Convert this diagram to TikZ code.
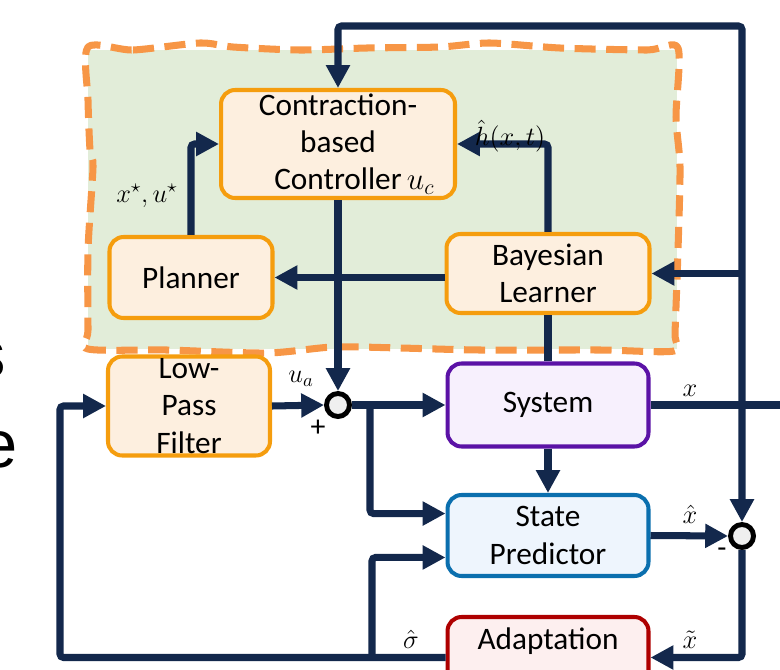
\documentclass[tikz,border=0pt]{standalone}
\usepackage{fix-cm}
\usepackage[no-math]{fontspec}
\setmainfont{Carlito}
\newfontfamily\bigsans{Liberation Sans}
\usepackage{xcolor}
\usetikzlibrary{arrows.meta}

\definecolor{navy}{HTML}{13284C}
\definecolor{boxorange}{HTML}{F59D0E}
\definecolor{boxfill}{HTML}{FDEFDF}
\definecolor{dashorange}{HTML}{F79646}
\definecolor{zonegreen}{HTML}{E2EDD9}
\definecolor{sysviolet}{HTML}{5B12A6}
\definecolor{sysfill}{HTML}{F7F0FD}
\definecolor{predblue}{HTML}{0B6FAE}
\definecolor{predfill}{HTML}{EEF5FD}
\definecolor{adaptred}{HTML}{AE0000}
\definecolor{adaptfill}{HTML}{FDEFEF}
\definecolor{sumgray}{HTML}{EFEFEF}

\tikzset{
  block/.style={draw, rounded corners=8pt, line width=2.3pt, align=center,
    inner sep=1pt, font=\fontsize{17.8}{21.3}\selectfont},
  orangebox/.style={block, draw=boxorange, fill=boxfill},
  sumnode/.style={circle, draw=black, line width=2.8pt, fill=sumgray,
    minimum size=0.46cm, inner sep=0pt},
  wire/.style={draw=navy, line width=4pt, rounded corners=2pt},
  arr/.style={wire, -{Triangle[length=13pt,width=13pt]}},
  lbl/.style={inner sep=0pt, font=\fontsize{15}{17}\selectfont},
  sgn/.style={inner sep=0pt, font=\fontsize{17}{19}\selectfont},
  bigtxt/.style={inner sep=0pt, anchor=base east, font=\bigsans\fontsize{38}{44}\selectfont}
}

\begin{document}
\begin{tikzpicture}[x=0.02cm,y=-0.02cm]
  \useasboundingbox (0,0) rectangle (780,669);
  \clip (0,0) rectangle (780,669);

  % Cut-off slide text
  \node[bigtxt] (ls) at (6,377) {s};
  \node[bigtxt] (le) at (18,467) {e};

  % Learning zone
  \fill[zonegreen] (88,50) rectangle (677,349);
  \draw[dashorange, line width=4pt, dash pattern=on 12pt off 6pt, line join=round]
    plot[smooth cycle, tension=0.45] coordinates {
      (88,47) (133,50) (200,43) (233,47) (300,50) (367,48) (440,47) (490,43)
      (560,48) (647,50) (678,48) (676,117) (680,167) (678,250) (675,333)
      (674,351) (600,350) (480,350) (400,348) (333,347) (267,353) (167,350)
      (88,349) (88,330) (88,250) (93,167) (90,150) (88,100)};

  % Blocks
  \node[orangebox, minimum width=4.68cm, minimum height=2.16cm] (ctrl) at (338,144)
    {Contraction-\\based\\Controller\rlap{\,$u_c$}};
  \node[orangebox, minimum width=3.26cm, minimum height=1.62cm] (plan) at (191,277.5) {Planner};
  \node[orangebox, minimum width=4.06cm, minimum height=1.58cm] (bayes) at (548,273.5) {Bayesian\\Learner};
  \node[orangebox, minimum width=3.24cm, minimum height=1.98cm] (lpf) at (189,406) {Low-\\Pass\\Filter};
  \node[block, draw=sysviolet, fill=sysfill, minimum width=4.02cm, minimum height=1.66cm] (sys) at (548,405) {System};
  \node[block, draw=predblue, fill=predfill, minimum width=4.02cm, minimum height=1.62cm] (pred) at (548,535.5) {State\\Predictor};
  \node[block, draw=adaptred, fill=adaptfill, minimum width=4.02cm, minimum height=1.62cm, text depth=22pt] (adapt) at (548,657.5) {Adaptation};

  % Summing junctions
  \node[sumnode] (sum1) at (338,405) {};
  \node[sumnode] (sum2) at (742,536) {};

  % Helper points
  \coordinate (tl) at (338,26);
  \coordinate (tr) at (742,26);
  \coordinate (lb) at (60,657.5);
  \coordinate (b1) at (370,405);
  \coordinate (b2) at (372,657.5);
  \coordinate (xout) at (790,405);
  \coordinate (pin1) at ([yshift=12.5pt]pred.west);
  \coordinate (pin2) at ([yshift=-12.5pt]pred.west);

  % Top feedback
  \draw[wire, {Triangle[length=13pt,width=13pt]}-{Triangle[length=13pt,width=13pt]}]
    (ctrl.north) -- (tl) -- (tr) -- (sum2.north);
  \draw[arr] (tr |- bayes.east) -- (bayes.east);

  % Learning zone links
  \draw[arr] (plan.north) |- (ctrl.west);
  \draw[arr] (bayes.north) |- (ctrl.east);
  \draw[arr] (bayes.west |- plan.east) -- (plan.east);
  \draw[arr] (ctrl.south) -- (sum1.north);
  \draw[wire] (bayes.south) -- (sys.north);

  % Main loop
  \draw[arr] (lpf.east) -- (sum1.west);
  \draw[arr] (sum1.east) -- (sys.west);
  \draw[wire] (sys.east) -- (xout);
  \draw[arr] (b1) |- (pin1);
  \draw[arr] (sys.south) -- (pred.north);
  \draw[arr] (pred.east) -- (sum2.west);
  \draw[arr] (sum2.south) |- (adapt.east);
  \draw[arr] (adapt.west) -| (lb |- lpf.west) -- (lpf.west);
  \draw[arr] (b2) |- (pin2);

  % Signal labels
  \node[lbl] (lxu) at (147,196) {$x^\star, u^\star$};
  \node[lbl] (lh) at (510,136) {$\hat h(x,t)$};
  \node[lbl] (lua) at (301,379) {$u_a$};
  \node[sgn] (lplus) at (318,428) {+};
  \node[lbl] (lx) at (690,391) {$x$};
  \node[lbl] (lxh) at (690,514) {$\hat x$};
  \node[sgn] (lminus) at (722,553) {-};
  \node[lbl] (lxt) at (690,640) {$\tilde x$};
  \node[lbl] (lsig) at (411,639) {$\hat\sigma$};
\end{tikzpicture}
\end{document}
